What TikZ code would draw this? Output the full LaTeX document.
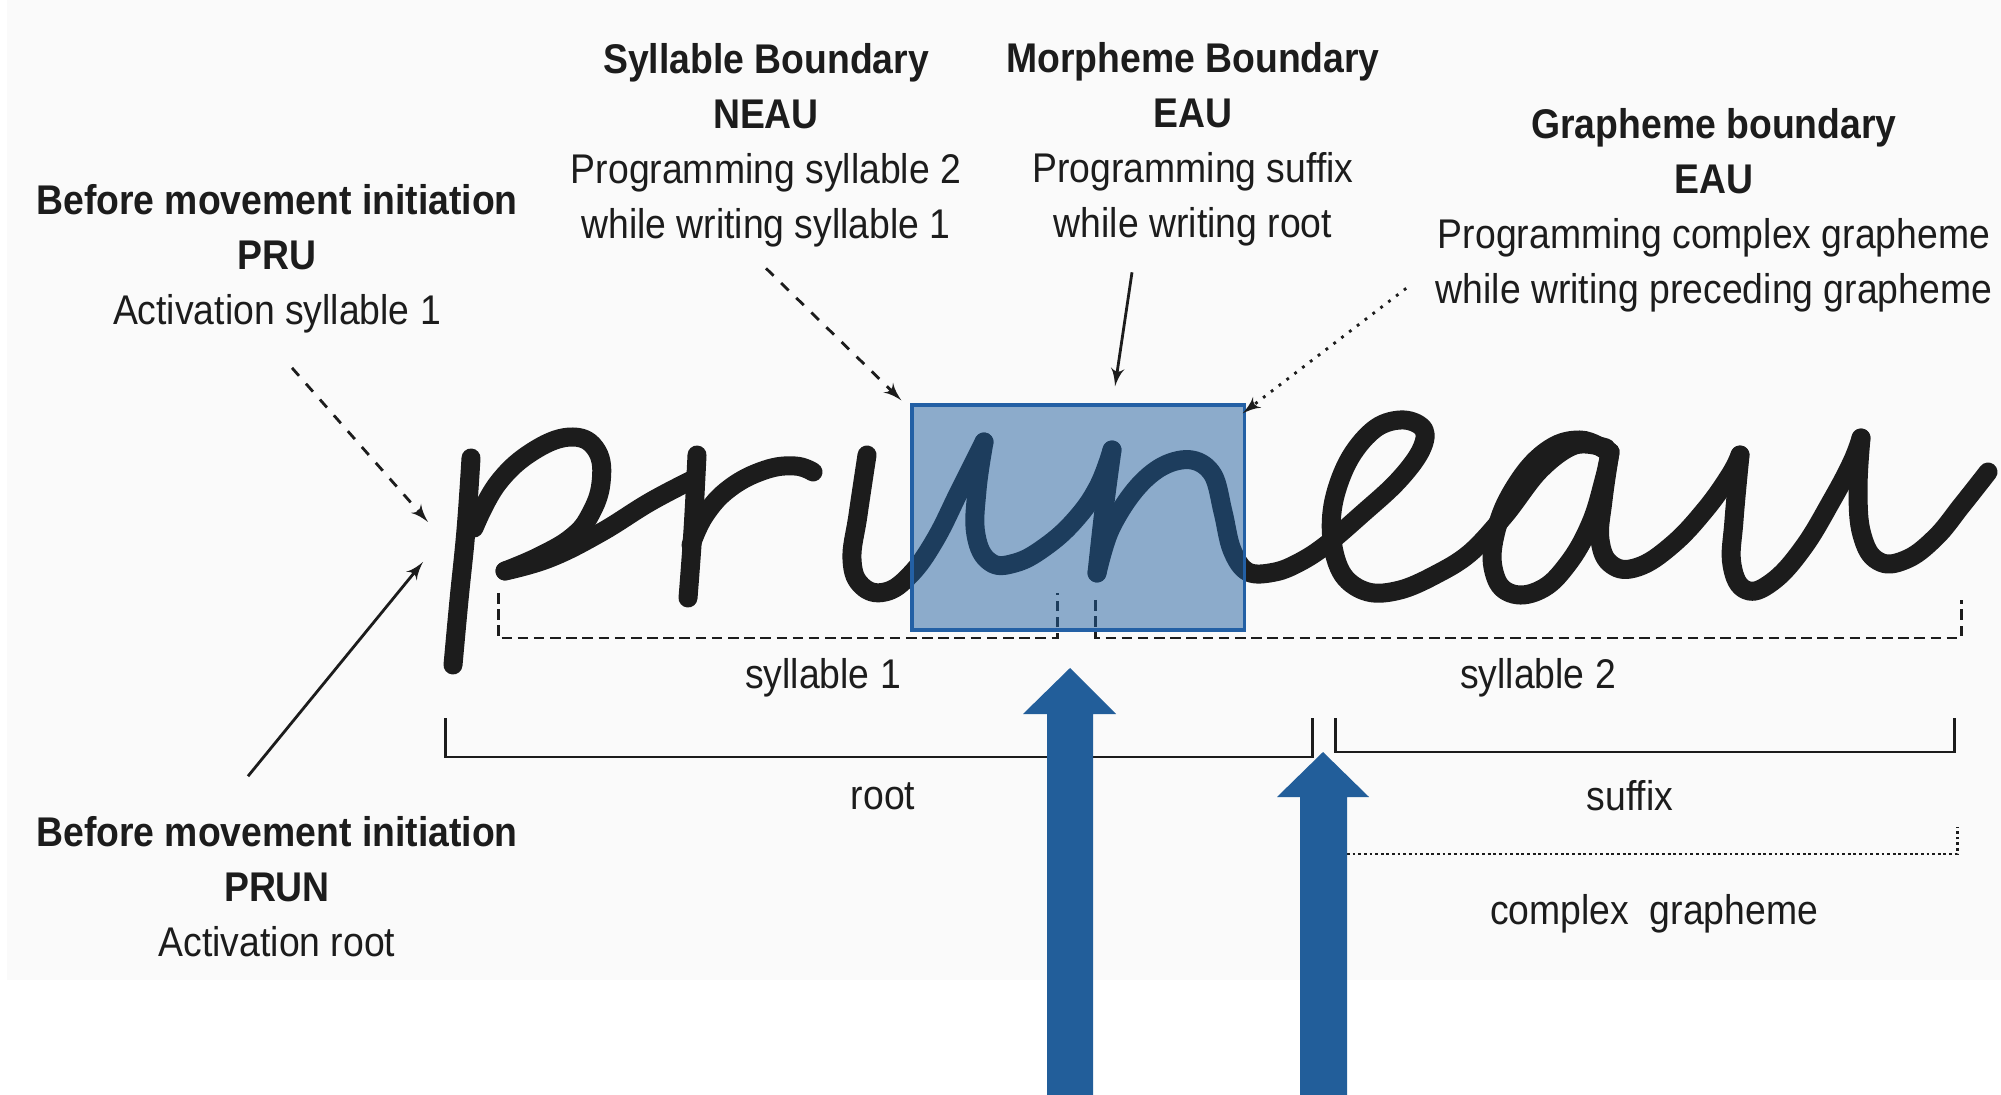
\documentclass[tikz,border=0pt]{standalone}
\usepackage{fontspec}
\setmainfont[FakeStretch=0.9]{Liberation Sans}
\usepackage{tikz}
\usetikzlibrary{arrows}
\definecolor{ink}{RGB}{28,28,28}
\definecolor{bgcol}{RGB}{250,250,250}
\definecolor{boxfill}{RGB}{31,94,158}
\definecolor{boxedge}{RGB}{35,96,165}
\definecolor{arrowblue}{RGB}{34,94,154}
\tikzstyle{note}=[align=center, inner sep=0pt, text=ink]
\tikzstyle{pen}=[draw=ink, line width=0.19cm, line cap=round, line join=round]
\tikzstyle{brace}=[draw=ink, line width=0.85pt]
\tikzstyle{pointer}=[draw=ink, line width=0.8pt, ->]
\tikzstyle{boundary}=[draw=boxedge, fill=boxfill, fill opacity=0.5, line width=0.9pt, minimum width=3.32cm, minimum height=2.25cm, inner sep=0pt]
\tikzstyle{bigarrow}=[fill=arrowblue]

\begin{document}
\begin{tikzpicture}[x=0.01cm,y=-0.01cm,>=latex',font=\fontsize{11.8}{15.6}\selectfont]
    \useasboundingbox (0,0) rectangle (2001,1095);
    \fill[bgcol] (7,0) rectangle (2001,980);

    \node [note] (pru) at (277,259) {\textbf{Before movement initiation}\\\textbf{PRU}\\Activation syllable 1};
    \node [note] (prun) at (277,887) {\textbf{Before movement initiation}\\\textbf{PRUN}\\Activation root};
    \node [note] (sylb) at (766,145) {\textbf{Syllable Boundary}\\\textbf{NEAU}\\Programming syllable 2\\while writing syllable 1};
    \node [note] (morb) at (1193,144) {\textbf{Morpheme Boundary}\\\textbf{EAU}\\Programming suffix\\while writing root};
    \node [note] (graphb) at (1714,210) {\textbf{Grapheme boundary}\\\textbf{EAU}\\Programming complex grapheme\\while writing preceding grapheme};

    \draw[brace, dash pattern=on 3pt off 1.6pt] (498,593) -- (498,638) -- (1057,638) -- (1057,593);
    \draw[brace, dash pattern=on 3pt off 1.6pt] (1095,600) -- (1095,638) -- (1961,638) -- (1961,600);
    \draw[brace] (445,718) -- (445,757) -- (1312,757) -- (1312,718);
    \draw[brace] (1335,718) -- (1335,752) -- (1954,752) -- (1954,718);
    \draw[brace, dash pattern=on 0.8pt off 0.8pt] (1347,854) -- (1957,854) -- (1957,827);
    \node [note] (syl1) at (823,678) {syllable 1};
    \node [note] (syl2) at (1538,678) {syllable 2};
    \node [note] (root) at (883,796) {root};
    \node [note] (suffix) at (1630,796) {suffix};
    \node [note] (cgraph) at (1654,914) {complex\ \ grapheme};

    \draw[pen] plot[smooth, tension=0.7] coordinates {(471,458) (466,530) (459,600) (453,665)};
    \draw[pen] plot[smooth, tension=0.7] coordinates {(474,528) (498,483) (535,450) (573,437) (597,451) (601,483) (590,515) (572,537) (540,556) (505,571)};
    \draw[pen] plot[smooth, tension=0.7] coordinates {(505,571) (550,558) (600,533) (650,502) (692,480)};
    \draw[pen] plot[smooth, tension=0.7] coordinates {(697,455) (693,530) (688,598)};
    \draw[pen] plot[smooth, tension=0.7] coordinates {(691,545) (705,515) (730,488) (765,470) (795,466) (813,472)};
    \draw[pen] plot[smooth, tension=0.7] coordinates {(867,455) (858,515) (852,560) (862,586) (885,592) (910,575) (935,540) (960,490) (984,442)};
    \draw[pen] plot[smooth, tension=0.7] coordinates {(984,442) (977,490) (976,535) (990,562) (1015,563) (1045,547) (1075,520) (1098,487) (1112,450)};
    \draw[pen] plot[smooth, tension=0.7] coordinates {(1112,450) (1104,510) (1097,573)};
    \draw[pen] plot[smooth, tension=0.6] coordinates {(1097,573) (1110,530) (1135,490) (1163,466) (1192,460) (1213,475) (1223,512) (1232,550) (1248,572) (1275,572) (1300,562) (1326,545) (1362,514) (1397,482) (1420,452) (1424,430) (1404,420) (1376,428) (1350,458) (1334,500) (1332,540) (1343,575) (1368,592) (1400,590) (1435,575) (1470,553) (1505,515) (1540,470) (1575,445) (1606,448)};
    \draw[pen] plot[smooth, tension=0.7] coordinates {(1608,452) (1580,440) (1545,452) (1513,490) (1495,535) (1494,572) (1510,593) (1540,590) (1567,565) (1590,525) (1604,480) (1610,452)};
    \draw[pen] plot[smooth, tension=0.7] coordinates {(1610,452) (1603,500) (1600,540) (1612,565) (1638,567) (1672,545) (1705,510) (1730,475) (1740,455)};
    \draw[pen] plot[smooth, tension=0.7] coordinates {(1740,455) (1734,520) (1732,565) (1746,590) (1772,582) (1803,548) (1832,500) (1852,462) (1861,438)};
    \draw[pen] plot[smooth, tension=0.7] coordinates {(1861,438) (1858,490) (1862,535) (1878,561) (1905,560) (1935,538) (1962,505) (1988,472)};

    \node [boundary] (morph) at (1078,517.5) {};

    \coordinate (pTop) at (428,522);
    \coordinate (pBottom) at (423,562);
    \draw[pointer, dashed] ([shift={(15,34)}]pru.south) -- (pTop);
    \draw[pointer] ([shift={(-29,-40)}]prun.north) -- (pBottom);
    \draw[pointer, dashed] ([shift={(0,21)}]sylb.south) -- ([shift={(-9,-3)}]morph.north west);
    \draw[pointer] ([shift={(-61,26)}]morb.south) -- ([shift={(37,-17)}]morph.north);
    \draw[pointer, dotted] ([shift={(-29,-24)}]graphb.south west) -- ([shift={(-3,10)}]morph.north east);

    \fill[bigarrow] (1047,1095) -- (1047,714) -- (1023,714) -- (1070,668) -- (1116,714) -- (1093,714) -- (1093,1095) -- cycle;
    \fill[bigarrow] (1300,1095) -- (1300,797) -- (1277,797) -- (1323,752) -- (1369,797) -- (1347,797) -- (1347,1095) -- cycle;
\end{tikzpicture}
\end{document}
